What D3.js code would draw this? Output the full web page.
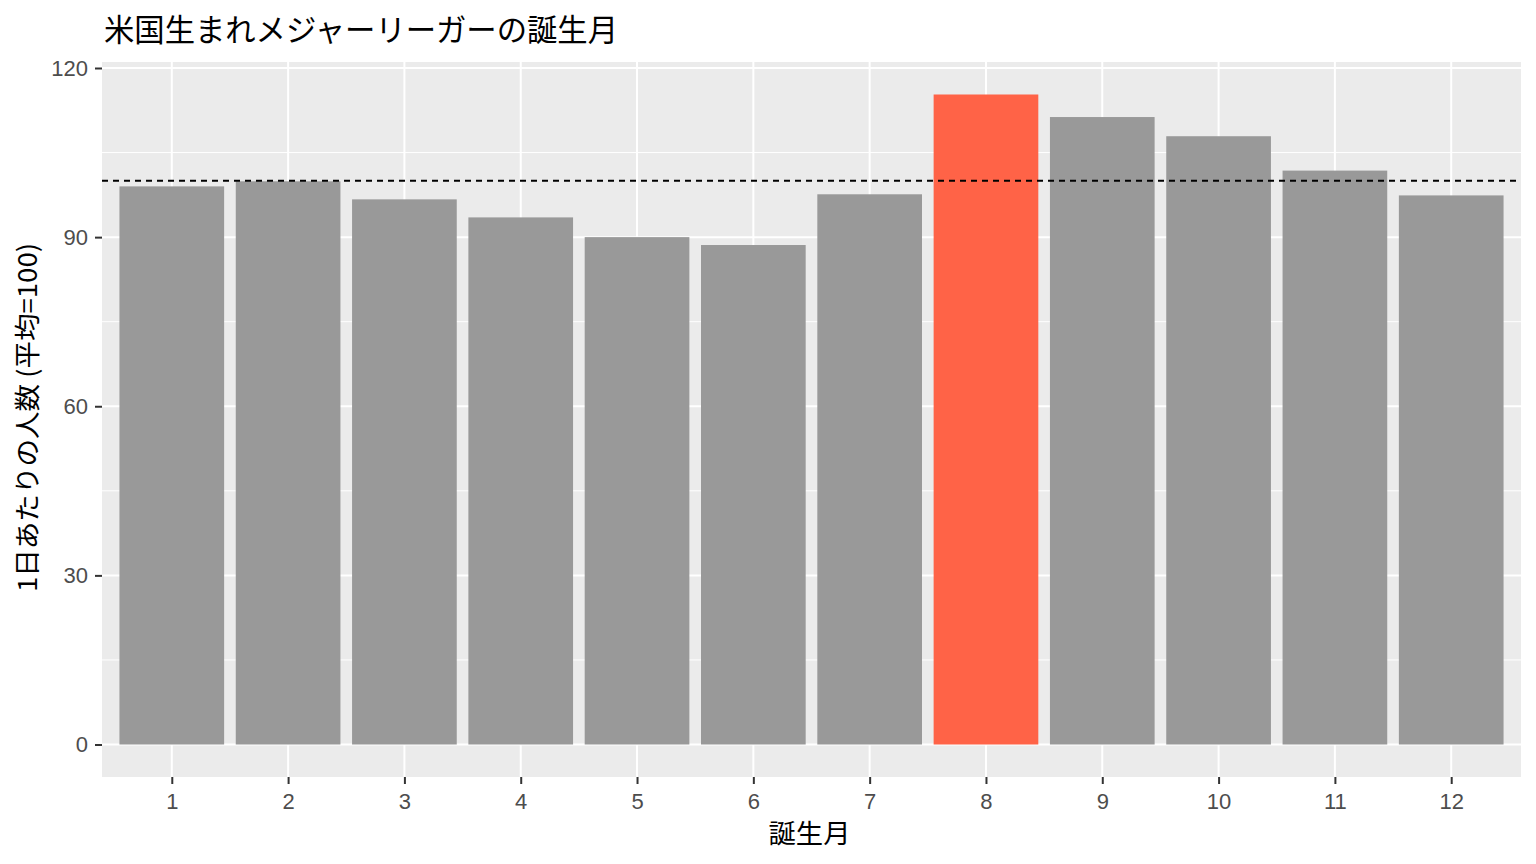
<!DOCTYPE html>
<html>
<head>
<meta charset="utf-8">
<script src="https://cdn.jsdelivr.net/npm/d3@7"></script>
<style>
  html, body { margin: 0; padding: 0; background: #fff; }
  svg { display: block; }
  .tick text { font-family: "Liberation Sans", Arial, sans-serif; fill: #4d4d4d; }
</style>
</head>
<body>
<script>
'use strict';

// months and births per day, indexed to 100
const months = ['1', '2', '3', '4', '5', '6', '7', '8', '9', '10', '11', '12'];
const perDay = [99.0, 99.9, 96.7, 93.5, 90.0, 88.6, 97.6, 115.3, 111.3, 107.9, 101.8, 97.4];
const highlight = '8';
const refLine = 100;
const yTicks = [0, 30, 60, 90, 120];
const yMinor = [15, 45, 75, 105];

const W = 1536, H = 864;
const panel = { left: 102, right: 1521, top: 62, bottom: 777 };

const svg = d3.select('body').append('svg').attr('width', W).attr('height', H);

// ggplot-style expansion: discrete +0.6, continuous 5%
const x = d3.scaleLinear().domain([0.4, months.length + 0.6]).range([panel.left, panel.right]);
const yMax = d3.max(perDay);
const y = d3.scaleLinear().domain([-0.05 * yMax, yMax * 1.05]).range([panel.bottom, panel.top]);

svg.append('rect')
    .attr('x', panel.left).attr('y', panel.top)
    .attr('width', panel.right - panel.left).attr('height', panel.bottom - panel.top)
    .attr('fill', '#ebebeb');

const grid = svg.append('g');
grid.selectAll('line.minor').data(yMinor).enter().append('line')
    .attr('x1', panel.left).attr('x2', panel.right)
    .attr('y1', d => y(d)).attr('y2', d => y(d))
    .attr('stroke', '#fff').attr('stroke-width', 1);
grid.selectAll('line.majory').data(yTicks).enter().append('line')
    .attr('x1', panel.left).attr('x2', panel.right)
    .attr('y1', d => y(d)).attr('y2', d => y(d))
    .attr('stroke', '#fff').attr('stroke-width', 2);
grid.selectAll('line.majorx').data(months).enter().append('line')
    .attr('x1', (d, i) => x(i + 1)).attr('x2', (d, i) => x(i + 1))
    .attr('y1', panel.top).attr('y2', panel.bottom)
    .attr('stroke', '#fff').attr('stroke-width', 2);

// bars, width 0.9 like geom_bar
svg.append('g').selectAll('rect').data(perDay).enter().append('rect')
    .attr('x', (d, i) => x(i + 1 - 0.45))
    .attr('width', x(1.9) - x(1))
    .attr('y', d => y(d))
    .attr('height', d => y(0) - y(d))
    .attr('fill', (d, i) => months[i] === highlight ? '#ff6347' : '#999999');

svg.append('line')
    .attr('x1', panel.left).attr('x2', panel.right)
    .attr('y1', y(refLine)).attr('y2', y(refLine))
    .attr('stroke', '#000').attr('stroke-width', 1.8)
    .attr('stroke-dasharray', '6,5');

// axes
const yAxis = svg.append('g')
    .attr('transform', `translate(${panel.left},0)`)
    .call(d3.axisLeft(y).tickValues(yTicks).tickSize(7).tickPadding(7));
const xAxis = svg.append('g')
    .attr('transform', `translate(0,${panel.bottom})`)
    .call(d3.axisBottom(x).tickValues(d3.range(1, months.length + 1)).tickFormat(d => months[d - 1]).tickSize(7).tickPadding(9));
[yAxis, xAxis].forEach(a => {
  a.select('.domain').remove();
  a.selectAll('.tick line').attr('stroke', '#333').attr('stroke-width', 2);
  a.selectAll('.tick text').style('font-size', '22px');
});

const jp = '"Noto Sans CJK JP", "Noto Sans", sans-serif';

svg.append('text')
    .attr('x', 104).attr('y', 41)
    .style('font-family', jp).style('font-size', '31px')
    .attr('textLength', 514).attr('lengthAdjust', 'spacingAndGlyphs')
    .attr('fill', '#000')
    .text('米国生まれメジャーリーガーの誕生月');

svg.append('text')
    .attr('x', (panel.left + panel.right) / 2 - 2).attr('y', 843)
    .attr('text-anchor', 'middle')
    .style('font-family', jp).style('font-size', '26px')
    .attr('textLength', 82).attr('lengthAdjust', 'spacingAndGlyphs')
    .text('誕生月');

svg.append('text')
    .attr('transform', `translate(37,${(243 + 592) / 2}) rotate(-90)`)
    .attr('text-anchor', 'middle')
    .style('font-family', jp).style('font-size', '26px')
    .attr('textLength', 349).attr('lengthAdjust', 'spacingAndGlyphs')
    .text('1日あたりの人数 (平均=100)');
</script>
</body>
</html>
